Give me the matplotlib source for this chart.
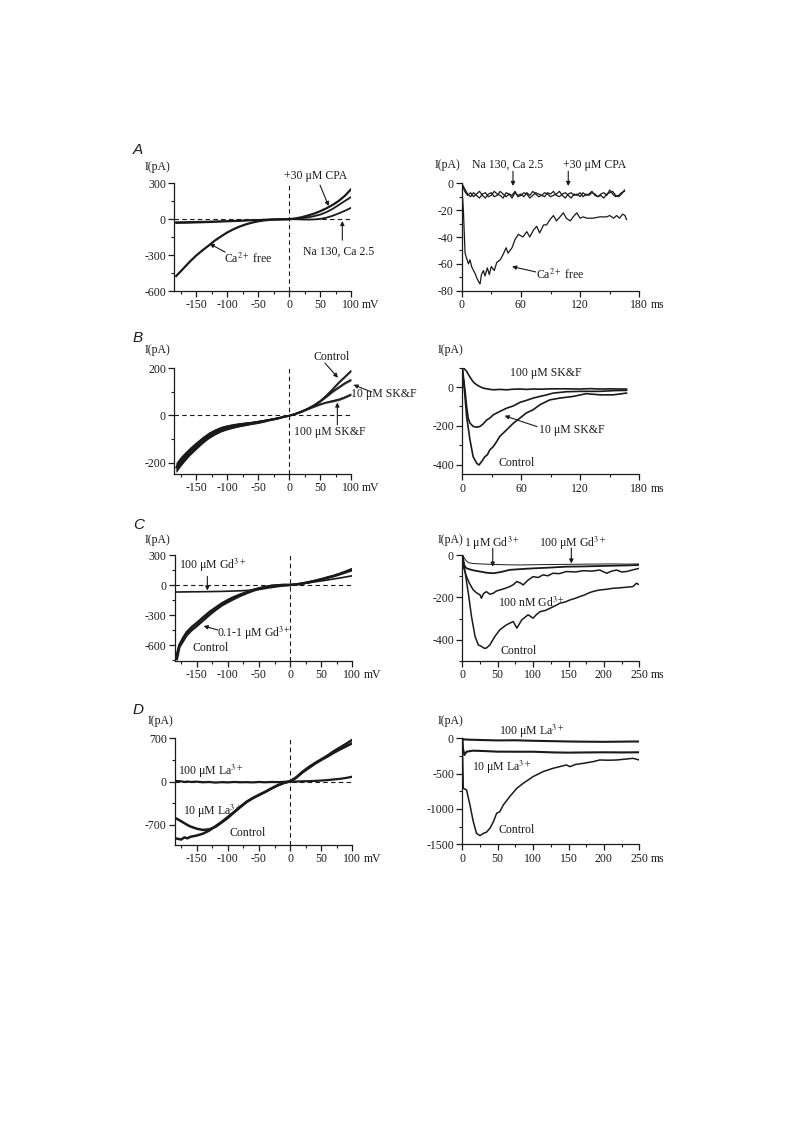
import numpy as np
import matplotlib
matplotlib.use('Agg')
import matplotlib.pyplot as plt
from matplotlib.ticker import FixedLocator

plt.rcParams['font.family'] = ['Liberation Serif', 'DejaVu Serif']
plt.rcParams['mathtext.fontset'] = 'stix'
plt.rcParams['axes.unicode_minus'] = False

# ---------------- DATA ----------------
# Panel A, I-V
vA = [-182, -170, -160, -150, -140, -130, -120, -110, -100, -90, -80, -70, -60, -50,
      -40, -30, -20, -10, 0, 10, 20, 30, 40, 50, 60, 70, 80, 90, 100]
iA_cafree = [-475, -410, -355, -305, -262, -222, -180, -145, -112, -85, -62, -44, -29, -18,
             -10, -5, -2, -1, 0, 6, 16, 30, 46, 66, 90, 118, 152, 195, 250]
iA_na130 = [-32, -31, -30, -28, -27, -25, -23, -21, -19, -17, -15, -12, -10, -8,
            -5, -3, -2, -1, 0, 0, -2, -3, -2, 2, 12, 28, 48, 70, 95]
iA_cpa = [-25, -24, -23, -22, -21, -20, -18, -16, -15, -13, -11, -9, -7, -6,
          -4, -3, -2, -1, 0, 3, 8, 15, 25, 38, 58, 85, 118, 152, 185]
# Panel A, time course
tA_flat = [0, 3, 6, 9, 12, 15, 18, 21, 24, 27, 30, 33, 36, 39, 42, 45, 48, 51, 54, 57,
           60, 63, 66, 69, 72, 75, 78, 81, 84, 87, 90, 93, 96, 99, 102, 105, 108, 111,
           114, 117, 120, 123, 126, 129, 132, 135, 138, 141, 144, 147, 150, 153, 156,
           159, 162, 165]
iA_t_na130 = [0, -6, -9, -7, -10, -8, -6, -9, -11, -8, -7, -10, -9, -6, -8, -10, -8, -11,
              -7, -9, -8, -10, -7, -9, -6, -8, -10, -9, -7, -8, -10, -9, -8, -6, -9, -11,
              -8, -7, -9, -8, -10, -7, -9, -8, -6, -9, -10, -8, -7, -9, -5, -8, -10, -9,
              -7, -6]
iA_t_cpa = [0, -4, -8, -10, -7, -9, -11, -8, -7, -10, -9, -6, -8, -9, -11, -7, -8, -9,
            -6, -10, -9, -7, -8, -11, -9, -7, -8, -9, -10, -7, -8, -6, -9, -10, -8, -7,
            -9, -11, -8, -9, -7, -10, -8, -9, -7, -8, -10, -9, -11, -8, -7, -6, -9, -10,
            -8, -5]
tA_cafree = [0, 0.8, 1.7, 3.4, 5, 6.8, 8.4, 10, 12, 13.5, 15, 17, 18.6, 20, 22, 23.6, 26,
             28, 30, 33, 35.5, 39, 42, 45, 47, 51, 54, 57.4, 62, 66, 69, 72.6, 76, 79,
             83, 86, 89.5, 93, 96, 99.7, 103, 106, 110, 113, 116.6, 120, 123, 127, 133,
             140, 147, 150, 154, 157, 160, 163, 165.5, 167]
iA_t_cafree = [0, -10, -20, -52, -56, -60, -57, -62, -65, -67, -70, -73, -75, -68, -65,
               -69, -63, -68, -62, -65, -59, -57, -53, -48, -52, -48, -42, -38, -40, -36,
               -40, -35, -32, -37, -31, -31, -27, -24, -28, -25, -22, -26, -28, -25, -22,
               -26, -25, -26, -26, -25, -25, -24, -26, -24, -26, -23, -24, -27]

# Panel B, I-V
vB = [-182, -175, -170, -160, -150, -140, -130, -120, -110, -100, -90, -80, -70, -60,
      -50, -40, -30, -20, -10, 0, 10, 20, 30, 40, 50, 60, 70, 80, 90, 100]
iB_ctrl = [-220, -195, -180, -152, -128, -105, -85, -70, -58, -50, -44, -39, -35, -31,
           -27, -22, -17, -12, -6, 0, 8, 18, 30, 44, 62, 85, 112, 140, 165, 190]
iB_10 = [-218, -193, -178, -150, -126, -104, -84, -69, -57, -49, -43, -38, -34, -30,
         -26, -21, -16, -11, -5, 0, 8, 18, 29, 43, 60, 80, 102, 120, 138, 152]
iB_100 = [-222, -197, -182, -154, -130, -106, -86, -71, -59, -51, -45, -40, -36, -32,
          -28, -23, -17, -12, -6, 0, 7, 16, 27, 38, 48, 56, 62, 68, 78, 90]
iB_noise = [20, 19, 18, 16, 15, 14, 13, 12, 11, 10, 9, 8, 7, 6, 6, 5, 4, 4, 3, 3, 3, 3,
            3, 4, 4, 4, 5, 5, 5, 5]
# Panel B, time course
tB_100 = [0, 2, 4.4, 7, 9.5, 12, 14.6, 18, 21, 26, 31.5, 38, 45, 52, 58.6, 65, 72, 80,
          90, 106, 120, 130, 140, 150, 160, 167]
iB_t_100 = [100, 95, 81, 58, 38, 22, 12, 2, -5, -10, -14, -12, -14, -11, -10, -12, -10,
            -11, -9, -9, -10, -8, -10, -9, -10, -10]
tB_10 = [0, 2.7, 4.4, 6, 7.8, 11, 14.6, 18, 21, 25, 28, 31.5, 35, 38, 41.7, 45, 52, 58.6,
         65, 72, 79, 86, 92.5, 106, 120, 140, 155, 167]
iB_t_10 = [100, -14, -100, -160, -186, -203, -207, -203, -191, -169, -160, -143, -134,
           -126, -117, -109, -97, -79, -69, -57, -48, -40, -31, -24, -22, -22, -18, -17]
tB_ctrl = [0, 2.7, 4.4, 7.8, 11, 14.6, 17, 19.7, 23, 25.4, 28, 31.5, 35, 38, 45, 52,
           58.6, 65, 72, 79, 89, 99, 113, 126, 140, 153.6, 167]
iB_t_ctrl = [100, -48, -152, -272, -359, -393, -402, -384, -359, -350, -324, -307, -281,
             -255, -221, -186, -160, -134, -117, -91, -66, -57, -48, -34, -40, -40, -31]

# Panel C, I-V
vC = [-182, -178, -172, -166, -158, -150, -140, -130, -120, -110, -100, -90, -80, -70,
      -60, -50, -40, -30, -20, -10, 0, 10, 20, 30, 40, 50, 60, 70, 80, 90, 100]
iC_ctrl = [-740, -620, -560, -500, -450, -410, -355, -300, -250, -205, -170, -138, -108,
           -82, -58, -38, -22, -10, -3, 0, 0, 6, 15, 28, 42, 57, 75, 92, 112, 135, 160]
iC_low = [-700, -600, -530, -470, -420, -380, -325, -272, -228, -185, -150, -120, -95,
          -72, -50, -33, -20, -9, -3, 0, 0, 6, 15, 27, 40, 55, 72, 88, 108, 128, 150]
iC_100 = [-70, -70, -69, -69, -68, -68, -67, -66, -65, -64, -62, -60, -58, -55, -50, -45,
          -35, -25, -16, -8, 0, 7, 15, 23, 32, 41, 50, 60, 70, 81, 92]
# Panel C, time course
tC_100 = [0, 2, 5, 8.5, 15, 25, 40, 60, 80, 100, 120, 150, 180, 210, 230, 250]
iC_t_100 = [0, -10, -25, -36, -40, -42, -44, -46, -47, -46, -45, -44, -43, -42, -43, -42]
tC_1 = [0, 3, 6, 15, 25, 35, 44, 55, 67, 80, 100, 120, 147, 170, 194, 220, 235, 250]
iC_t_1 = [0, -50, -63, -72, -78, -84, -86, -80, -70, -67, -63, -60, -55, -54, -52, -50,
          -49, -47]
tC_nM = [0, 2.3, 6, 10, 15.5, 20, 25, 27, 30, 34, 39, 44, 48, 53, 60, 67, 72, 77, 82, 86,
         93, 100, 107, 114, 121, 128, 137, 147, 160, 171, 183, 194, 204, 211, 218, 225,
         232, 241, 250]
iC_t_nM = [0, -63, -102, -133, -165, -178, -188, -204, -182, -173, -185, -180, -170, -165,
           -158, -149, -140, -125, -132, -141, -118, -102, -106, -94, -98, -86, -88, -78,
           -80, -74, -76, -71, -86, -76, -71, -80, -78, -70, -63]
tC_ctrl = [0, 3.5, 8.5, 13, 18, 22.6, 27, 31, 34, 39, 46, 53, 58, 62.6, 68, 72, 77, 84,
           93, 100, 105, 110, 117, 124, 131, 138, 145, 152, 159, 166, 173, 180, 187, 194,
           203, 213, 222, 232, 241, 246, 250]
iC_t_ctrl = [0, -71, -180, -290, -384, -424, -431, -440, -439, -424, -384, -353, -340,
             -329, -320, -314, -345, -306, -282, -298, -280, -267, -262, -251, -240, -227,
             -222, -212, -205, -196, -188, -177, -170, -165, -162, -157, -155, -152, -149,
             -133, -141]

# Panel D, I-V
vD = [-182, -175, -170, -165, -160, -150, -140, -130, -120, -110, -100, -90, -80, -70,
      -60, -50, -40, -30, -20, -10, 0, 10, 20, 30, 40, 50, 60, 70, 80, 90, 100]
iD_ctrl = [-920, -935, -900, -915, -890, -870, -840, -790, -720, -650, -570, -490, -405,
           -325, -265, -215, -165, -110, -60, -20, 5, 70, 160, 235, 300, 360, 420, 490,
           550, 610, 675]
iD_10 = [-600, -640, -670, -700, -725, -760, -780, -770, -730, -660, -585, -495, -410,
         -330, -268, -215, -165, -110, -60, -20, 5, 65, 150, 220, 290, 350, 405, 465,
         520, 570, 620]
iD_100 = [10, 5, -5, 2, -5, 0, -10, -5, -15, -8, -12, -5, -10, -8, -12, -5, -10, -5, -8,
          -3, 0, 2, 5, 8, 12, 18, 25, 35, 45, 60, 80]
# Panel D, time course
tD_100 = [0, 1, 3, 10, 30, 50, 75, 100, 125, 150, 175, 200, 225, 250]
iD_t_100 = [0, -20, -15, -20, -25, -30, -28, -35, -40, -45, -48, -50, -47, -45]
tD_10 = [0, 1, 3, 6, 15, 30, 50, 75, 100, 130, 150, 175, 200, 225, 250]
iD_t_10 = [0, -150, -236, -189, -175, -180, -189, -190, -190, -200, -203, -200, -198,
           -200, -198]
tD_ctrl = [0, 1.4, 6, 10.8, 15.5, 20, 25, 30, 34, 39, 44, 48.5, 53, 58, 67, 77, 86, 100,
           114, 128, 140, 147, 152, 160, 171, 185, 194, 206, 218, 230, 241, 250]
iD_t_ctrl = [0, -708, -731, -943, -1179, -1344, -1377, -1344, -1330, -1274, -1179, -1061,
             -1038, -943, -825, -708, -637, -542, -472, -425, -395, -377, -401, -370, -354,
             -330, -307, -310, -307, -295, -283, -307]

# ---------------- FIGURE ----------------
W, H = 793, 1123
fig = plt.figure(figsize=(W / 100, H / 100), dpi=100)
INK = '#1a1a1a'
FS = 8.5


def add_ax(l, t, r, b):
    return fig.add_axes([l / W, 1 - b / H, (r - l) / W, (b - t) / H])


def style(ax, xlim, ylim, xmaj, xmin, ymaj, ymin, unit):
    ax.set_xlim(*xlim)
    ax.set_ylim(*ylim)
    for s in ('top', 'right'):
        ax.spines[s].set_visible(False)
    for s in ('left', 'bottom'):
        ax.spines[s].set_linewidth(0.9)
        ax.spines[s].set_color(INK)
    ax.xaxis.set_major_locator(FixedLocator(xmaj))
    ax.xaxis.set_minor_locator(FixedLocator(xmin))
    ax.yaxis.set_major_locator(FixedLocator(ymaj))
    ax.yaxis.set_minor_locator(FixedLocator(ymin))
    ax.tick_params(which='major', direction='out', length=4, width=0.9, labelsize=FS,
                   colors=INK, pad=2)
    ax.tick_params(which='minor', direction='out', length=2.2, width=0.8, colors=INK)
    ax.annotate(unit, xy=(1, 0), xycoords='axes fraction', xytext=(8, -6),
                textcoords='offset points', ha='left', va='top', fontsize=FS, color=INK)
    ax.patch.set_alpha(0)


def fig_text(x, y, s, **kw):
    fig.text(x / W, 1 - y / H, s, fontsize=kw.pop('fontsize', FS), color=INK, **kw)


def note(ax, s, x, y, **kw):
    ax.text(x, y, s, fontsize=FS, color=INK, ha='center', va='center', clip_on=False, **kw)


def arrow(ax, tail, head):
    ax.annotate('', xy=head, xytext=tail,
                arrowprops=dict(arrowstyle='-|>', color=INK, lw=0.8,
                                mutation_scale=6, shrinkA=0, shrinkB=0),
                annotation_clip=False)


def zero_lines(ax):
    ax.axhline(0, color=INK, lw=0.8, ls=(0, (4, 3)), zorder=1)
    ax.axvline(0, color=INK, lw=0.8, ls=(0, (4, 3)), zorder=1)


# Panel letters
for letter, y in (('A', 150), ('B', 338), ('C', 525), ('D', 710)):
    fig.text(133 / W, 1 - y / H, letter, fontsize=11, style='italic',
             family=['Liberation Sans', 'DejaVu Sans'], color=INK, va='center')

# ---- A left
ax = add_ax(174.3, 183.3, 351, 291)
style(ax, (-185, 100), (-600, 300), [-150, -100, -50, 0, 50, 100],
      [-175, -125, -75, -25, 25, 75], [-600, -300, 0, 300], [-450, -150, 150], 'mV')
zero_lines(ax)
ax.plot(vA, iA_cafree, color=INK, lw=1.6)
ax.plot(vA, iA_na130, color=INK, lw=1.3)
ax.plot(vA, iA_cpa, color=INK, lw=1.3)
note(ax, '+30 μM CPA', 43, 362)
arrow(ax, (50, 285), (64, 110))
note(ax, 'Na 130, Ca 2.5', 80, -275)
arrow(ax, (86, -175), (86, -15))
note(ax, 'Ca$^{2+}$ free', -66, -332)
arrow(ax, (-103, -275), (-128, -205))
fig_text(145, 167, 'I(pA)', va='center')

# ---- A right
ax = add_ax(461.7, 183.3, 639.3, 290.7)
style(ax, (0, 180), (-80, 0), [0, 60, 120, 180], [30, 90, 150],
      [-80, -60, -40, -20, 0], [-70, -50, -30, -10], 'ms')
ax.plot(tA_flat, iA_t_na130, color=INK, lw=0.9)
ax.plot(tA_flat, iA_t_cpa, color=INK, lw=0.9)
ax.plot(tA_cafree, iA_t_cafree, color=INK, lw=0.9)
note(ax, 'Na 130, Ca 2.5', 47, 13.6)
arrow(ax, (52, 9), (52, -2))
note(ax, '+30 μM CPA', 135, 13.6)
arrow(ax, (108, 9), (108, -2))
note(ax, 'Ca$^{2+}$ free', 100, -68)
arrow(ax, (75, -66), (51, -62))
fig_text(435, 165, 'I(pA)', va='center')

# ---- B left
ax = add_ax(174.3, 368.3, 351, 474)
style(ax, (-185, 100), (-248, 200), [-150, -100, -50, 0, 50, 100],
      [-175, -125, -75, -25, 25, 75], [-200, 0, 200], [-100, 100], 'mV')
zero_lines(ax)
for series in (iB_ctrl, iB_10, iB_100):
    ax.fill_between(vB, np.array(series) - np.array(iB_noise),
                    np.array(series) + np.array(iB_noise), color=INK, lw=0, alpha=0.85)
    ax.plot(vB, series, color=INK, lw=0.9)
note(ax, 'Control', 68, 248)
arrow(ax, (58, 222), (79, 160))
note(ax, '10 μM SK&F', 153, 93)
arrow(ax, (133, 100), (104, 130))
note(ax, '100 μM SK&F', 66, -72)
arrow(ax, (78, -40), (78, 55))
fig_text(145, 350, 'I(pA)', va='center')

# ---- B right
ax = add_ax(462.3, 367.7, 639.3, 474.3)
style(ax, (0, 180), (-450, 100), [0, 60, 120, 180], [30, 90, 150],
      [-400, -200, 0], [-300, -100, 100], 'ms')
ax.plot(tB_100, iB_t_100, color=INK, lw=1.2)
ax.plot(tB_10, iB_t_10, color=INK, lw=1.2)
ax.plot(tB_ctrl, iB_t_ctrl, color=INK, lw=1.2)
note(ax, '100 μM SK&F', 85, 72)
note(ax, '10 μM SK&F', 111, -224)
arrow(ax, (76, -204), (43, -148))
note(ax, 'Control', 55, -393)
fig_text(438, 350, 'I(pA)', va='center')

# ---- C left
ax = add_ax(175, 555, 352.3, 661)
style(ax, (-185, 100), (-760, 300), [-150, -100, -50, 0, 50, 100],
      [-175, -125, -75, -25, 25, 75], [-600, -300, 0, 300], [-750, -450, -150, 150], 'mV')
zero_lines(ax)
ax.plot(vC, iC_ctrl, color=INK, lw=1.8)
ax.plot(vC, iC_low, color=INK, lw=1.8)
ax.plot(vC, iC_100, color=INK, lw=1.2)
note(ax, '100 μM Gd$^{3+}$', -125, 200)
arrow(ax, (-133, 85), (-133, -55))
note(ax, '0.1-1 μM Gd$^{3+}$', -58, -483)
arrow(ax, (-116, -450), (-139, -410))
note(ax, 'Control', -127, -630)
fig_text(145, 540, 'I(pA)', va='center')

# ---- C right
ax = add_ax(462.3, 555, 639.3, 661)
style(ax, (0, 250), (-500, 0), [0, 50, 100, 150, 200, 250], [25, 75, 125, 175, 225],
      [-400, -200, 0], [-500, -300, -100], 'ms')
ax.plot(tC_100, iC_t_100, color=INK, lw=0.7)
ax.plot(tC_1, iC_t_1, color=INK, lw=1.3)
ax.plot(tC_nM, iC_t_nM, color=INK, lw=1.1)
ax.plot(tC_ctrl, iC_t_ctrl, color=INK, lw=1.1)
note(ax, '1 μM Gd$^{3+}$', 41, 55)
arrow(ax, (43, 32), (43, -55))
note(ax, '100 μM Gd$^{3+}$', 156, 55)
arrow(ax, (154, 32), (154, -40))
note(ax, '100 nM Gd$^{3+}$', 97, -227)
note(ax, 'Control', 79, -455)
fig_text(438, 540, 'I(pA)', va='center')

# ---- D left
ax = add_ax(175, 738.3, 352.3, 845)
style(ax, (-185, 100), (-1023, 700), [-150, -100, -50, 0, 50, 100],
      [-175, -125, -75, -25, 25, 75], [-700, 0, 700], [-350, 350], 'mV')
zero_lines(ax)
ax.plot(vD, iD_ctrl, color=INK, lw=1.8)
ax.plot(vD, iD_10, color=INK, lw=1.8)
ax.plot(vD, iD_100, color=INK, lw=1.6)
note(ax, '100 μM La$^{3+}$', -127, 163)
note(ax, '10 μM La$^{3+}$', -124, -473)
note(ax, 'Control', -68, -834)
fig_text(148, 721, 'I(pA)', va='center')

# ---- D right
ax = add_ax(462.3, 738.3, 639.3, 844.3)
style(ax, (0, 250), (-1500, 0), [0, 50, 100, 150, 200, 250], [25, 75, 125, 175, 225],
      [-1500, -1000, -500, 0], [-1250, -750, -250], 'ms')
ax.plot(tD_100, iD_t_100, color=INK, lw=1.5)
ax.plot(tD_10, iD_t_10, color=INK, lw=1.5)
ax.plot(tD_ctrl, iD_t_ctrl, color=INK, lw=1.1)
note(ax, '100 μM La$^{3+}$', 98, 103)
note(ax, '10 μM La$^{3+}$', 55, -410)
note(ax, 'Control', 77, -1298)
fig_text(438, 721, 'I(pA)', va='center')

fig.savefig('out.png', dpi=100)
